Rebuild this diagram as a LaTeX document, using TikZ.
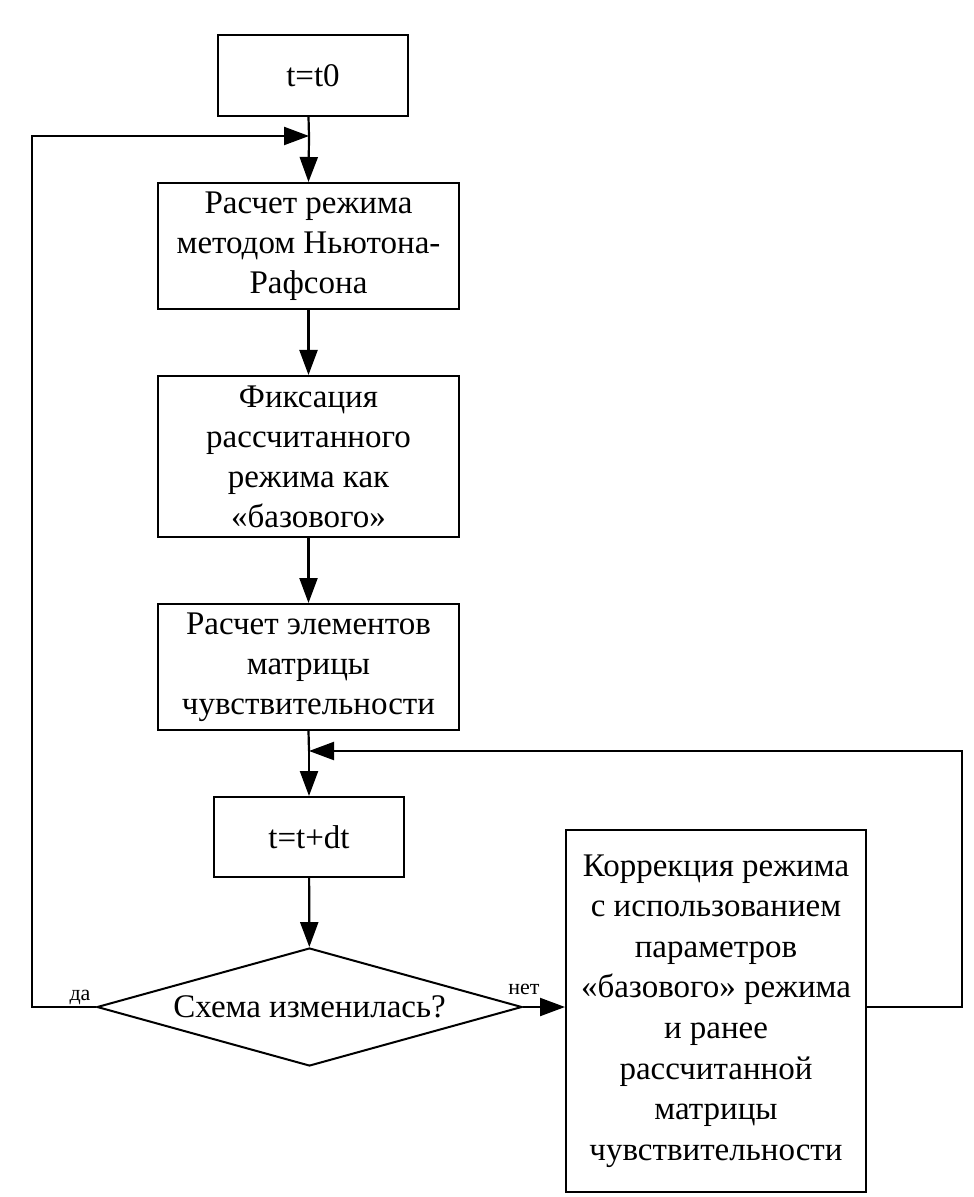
\documentclass[tikz,border=0pt]{standalone}
\usepackage{fontspec}
\setmainfont{Liberation Serif}
\usetikzlibrary{arrows.meta,shapes.geometric}
\tikzset{
  % style for the process boxes
  procbox/.style={draw, line width=1pt, align=center, inner sep=0pt,
    font=\fontsize{16.5}{20}\selectfont},
  % style for the decision
  askbox/.style={draw, line width=1pt, shape=diamond, aspect=3.6, inner sep=0pt,
    minimum width=212.5pt, minimum height=59pt,
    font=\fontsize{16.5}{20}\selectfont},
  % style for the connectors
  flow/.style={line width=1.1pt, -{Triangle[length=12.5pt,width=9pt]}},
  yesno/.style={font=\fontsize{11}{13}\selectfont, inner sep=0pt},
}

\begin{document}
\begin{tikzpicture}[x=0.5pt,y=-0.5pt]
  \useasboundingbox (0,0) rectangle (973,1197);
  % boxes
  \node[procbox, minimum width=95pt, minimum height=40.5pt] (start) at (313,75.5) {t=t0};
  \node[procbox, minimum width=150.5pt, minimum height=63pt] (newton) at (308.5,246)
    {Расчет режима\\методом Ньютона-\\Рафсона};
  \node[procbox, minimum width=150.5pt, minimum height=80.5pt] (fix) at (308.5,456.5)
    {Фиксация\\рассчитанного\\режима как\\«базового»};
  \node[procbox, minimum width=150.5pt, minimum height=63pt] (sens) at (308.5,667)
    {Расчет элементов\\матрицы\\чувствительности};
  \node[procbox, minimum width=95pt, minimum height=40pt] (step) at (309,837) {t=t+dt};
  \node[askbox] (ask) at (309.5,1007) {Схема изменилась?};
  \node[procbox, minimum width=150pt, minimum height=181pt,
    font=\fontsize{16.5}{20.3}\selectfont] (corr) at (716,1011)
    {Коррекция режима\\с использованием\\параметров\\«базового» режима\\и ранее\\рассчитанной\\матрицы\\чувствительности};
  % joins of the loops
  \coordinate (topjoin) at (309,136);
  \coordinate (botjoin) at (309,751);
  % main column
  \draw[line width=1.1pt] (newton.north |- start.south) -- (topjoin);
  \draw[flow] (topjoin) -- (newton.north);
  \draw[flow] (newton) -- (fix);
  \draw[flow] (fix) -- (sens);
  \draw[line width=1.1pt] (sens.south) -- (botjoin);
  \draw[flow] (botjoin) -- (step.north);
  \draw[flow] (step) -- (ask);
  % loops
  \draw[flow] (ask.west) -- ++(-64,0) |- (topjoin);
  \draw[flow] (ask.east) -- (corr.west |- ask.east);
  \draw[flow] (corr.east |- ask.east) -- ++(95,0) |- (botjoin);
  % labels
  \node[yesno, anchor=base] (yes) at (80,1000) {да};
  \node[yesno, anchor=base] (no) at (524,994) {нет};
\end{tikzpicture}
\end{document}
